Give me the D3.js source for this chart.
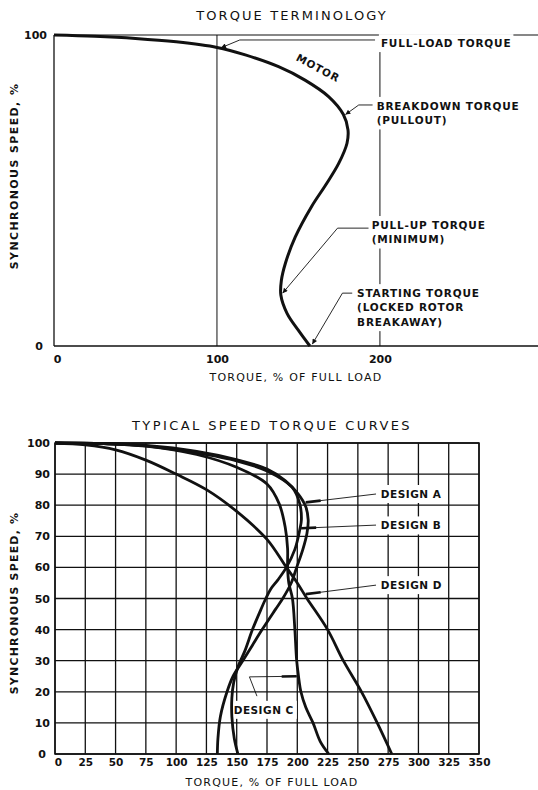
<!DOCTYPE html>
<html>
<head>
<meta charset="utf-8">
<script src="https://cdn.jsdelivr.net/npm/d3@7"></script>
<style>
  html, body { margin: 0; padding: 0; background: #fff; }
  svg text { font-family: "DejaVu Sans", sans-serif; fill: #111; }
</style>
</head>
<body>
<svg id="chart" width="538" height="790"></svg>
<script>
// ---- values: [torque % of full load, synchronous speed %] ----
const motorCurve = [
  [157, 0], [150, 5], [143, 10.5], [139.2, 16.4], [139.5, 21], [142, 26.6],
  [148, 35], [158, 44.8], [167, 52], [174.7, 58.7], [179.8, 65.2], [180.4, 69.5],
  [177.5, 74.5], [168.5, 80.2], [154, 85.5], [137.8, 89.8], [117.4, 93.6],
  [100, 96], [75, 97.8], [50, 98.9], [25, 99.6], [0, 100]
];
const designA = [
  [134, 0], [134.5, 5], [136.5, 12], [142, 20], [147, 25], [155, 30], [163, 35],
  [171, 40], [182, 46.5], [188, 50], [195, 55], [199.5, 60], [204.6, 65.8],
  [208, 71], [209, 75.3], [207, 79.5], [200.5, 83.7], [190, 87.9], [175, 91.6],
  [150.5, 94.6], [117, 97.3], [75, 99.2], [40, 99.8], [0, 100]
];
const designB = [
  [151, 0], [148, 5], [146, 12], [146, 18], [147.5, 23], [151, 28], [157, 33.4],
  [163, 40], [170, 46.5], [174, 50], [178, 53], [184, 56], [191, 60], [198, 65.8],
  [202, 72], [203.4, 75.3], [202, 80.5], [195.6, 85.8], [175, 91], [150.5, 94.2],
  [117, 96.8], [75, 99.1], [40, 99.8], [0, 100]
];
const designC = [
  [226, 0], [219, 4], [213, 10], [207, 15], [203, 20], [201, 25], [199.5, 30],
  [198, 40], [196, 50], [193, 55], [192, 60], [192, 66], [190, 73], [185, 80.5],
  [175, 86.8], [150.5, 92.1], [117, 96.3], [75, 99], [40, 99.8], [0, 100]
];
const designD = [
  [278, 0], [266, 10], [253, 20], [238, 30], [225, 40], [208, 50], [200, 55],
  [191, 60], [175, 69], [150, 78], [125, 85], [100, 90], [75, 94.5], [50, 97.8],
  [25, 99.4], [0, 100]
];

// ---- tick labels ----
const topXTicks = [0, 100, 200];
const topYTicks = [0, 100];
const bottomXTicks = [0, 25, 50, 75, 100, 125, 150, 175, 200, 225, 250, 275, 300, 325, 350];
const bottomYTicks = [0, 10, 20, 30, 40, 50, 60, 70, 80, 90, 100];

const svg = d3.select("#chart");
const ink = "#111";

const defs = svg.append("defs");
defs.append("marker")
  .attr("id", "arrow")
  .attr("viewBox", "0 0 10 10")
  .attr("refX", 10).attr("refY", 5)
  .attr("markerWidth", 8).attr("markerHeight", 5)
  .attr("markerUnits", "userSpaceOnUse")
  .attr("orient", "auto")
  .append("path").attr("d", "M0,0 L10,5 L0,10 Z").attr("fill", ink);

function txt(g, x, y, s, opts = {}) {
  return g.append("text")
    .attr("x", x).attr("y", y).attr("dy", "0.35em")
    .attr("text-anchor", opts.anchor || "middle")
    .attr("font-size", opts.size || 11)
    .attr("font-weight", opts.weight || "normal")
    .attr("letter-spacing", opts.ls || 0)
    .text(s);
}

function styleTicks(ax, size) {
  ax.select(".domain").remove();
  ax.selectAll("text").attr("font-size", size).attr("font-family", "DejaVu Sans")
    .attr("font-weight", "bold").attr("fill", ink);
}

// =================== Torque terminology ===================
const xT = d3.scaleLinear().domain([0, 297]).range([54, 538]);
const yT = d3.scaleLinear().domain([0, 100]).range([346, 35]);
const gT = svg.append("g");

txt(gT, 292, 15, "TORQUE TERMINOLOGY", { size: 13, ls: 2.1 });

// frame lines and the two vertical references
gT.append("line").attr("x1", xT(0)).attr("x2", xT(0)).attr("y1", yT(0)).attr("y2", yT(100))
  .attr("stroke", ink).attr("stroke-width", 1.3);
gT.append("line").attr("x1", xT(0)).attr("x2", 538).attr("y1", yT(0)).attr("y2", yT(0))
  .attr("stroke", ink).attr("stroke-width", 1.3);
gT.append("line").attr("x1", xT(0)).attr("x2", 538).attr("y1", yT(100)).attr("y2", yT(100))
  .attr("stroke", ink).attr("stroke-width", 1.1);
gT.selectAll("line.vref").data([100, 200]).join("line").attr("class", "vref")
  .attr("x1", d => xT(d)).attr("x2", d => xT(d)).attr("y1", yT(0)).attr("y2", yT(100))
  .attr("stroke", ink).attr("stroke-width", 1);

// tick labels via axes
const axT = gT.append("g").attr("transform", `translate(0,${yT(0)})`)
  .call(d3.axisBottom(xT).tickValues(topXTicks).tickSize(0).tickPadding(9).tickFormat(d3.format("d")));
styleTicks(axT, 11);
axT.selectAll("text").attr("dx", d => d === 0 ? 3 : 0);
const ayT = gT.append("g").attr("transform", `translate(${xT(0)},0)`)
  .call(d3.axisLeft(yT).tickValues(topYTicks).tickSize(0).tickPadding(7).tickFormat(d3.format("d")));
styleTicks(ayT, 11);
ayT.selectAll("text").attr("dx", d => d === 0 ? -4 : 0);

txt(gT, 296, 377, "TORQUE, % OF FULL LOAD", { size: 11, ls: 1.2 });
txt(gT, 0, 0, "SYNCHRONOUS SPEED, %", { size: 11, ls: 1.4, weight: "bold" })
  .attr("transform", "translate(14,176) rotate(-90)");

// label blocks (white backing interrupts the 200 % reference line)
const termNotes = [
  { lines: ["FULL-LOAD TORQUE"], t: 200.6, s: 97.4 },
  { lines: ["BREAKDOWN TORQUE", "(PULLOUT)"], t: 198, s: 77.2 },
  { lines: ["PULL-UP TORQUE", "(MINIMUM)"], t: 195, s: 38.9 },
  { lines: ["STARTING TORQUE", "(LOCKED ROTOR", "BREAKAWAY)"], t: 186, s: 17 }
];
const termLeaders = [
  [[197, 98.4], [114, 98.4], [102.5, 95.9]],
  [[195.5, 77.5], [187, 77.5], [178.8, 74.4]],
  [[193, 37.9], [174, 37.9], [140.3, 17]],
  [[183, 17], [177, 17], [158.5, 0.6]]
];
termNotes.forEach(n => {
  const g = gT.append("g");
  const tx = xT(n.t), ty = yT(n.s);
  const texts = n.lines.map((l, i) =>
    txt(g, tx, ty + i * 14.5, l, { anchor: "start", size: 10.5, weight: "bold", ls: 0.8 }));
  const w = d3.max(texts, t => t.node().getComputedTextLength());
  g.insert("rect", "text").attr("x", tx - 2).attr("y", ty - 9)
    .attr("width", w + 4).attr("height", (n.lines.length - 1) * 14.5 + 18).attr("fill", "#fff");
});
const lineT = d3.line().x(d => xT(d[0])).y(d => yT(d[1]));
termLeaders.forEach(p => {
  gT.append("path").attr("d", lineT(p)).attr("fill", "none")
    .attr("stroke", ink).attr("stroke-width", 0.9).attr("marker-end", "url(#arrow)");
});

// motor curve
gT.append("path").datum(motorCurve)
  .attr("d", d3.line().x(d => xT(d[0])).y(d => yT(d[1])).curve(d3.curveCatmullRom.alpha(0.5)))
  .attr("fill", "none").attr("stroke", ink).attr("stroke-width", 3).attr("stroke-linejoin", "round");

txt(gT, xT(162), yT(89.4), "MOTOR", { size: 10.5, weight: "bold", ls: 0.8 })
  .attr("transform", `rotate(28,${xT(162)},${yT(89.4)})`);

// =================== Typical speed torque curves ===================
const xB = d3.scaleLinear().domain([0, 350]).range([55, 479]);
const yB = d3.scaleLinear().domain([0, 100]).range([754, 443]);
const gB = svg.append("g");

txt(gB, 272, 425, "TYPICAL SPEED TORQUE CURVES", { size: 13, ls: 2.4 });

gB.selectAll("line.gx").data(bottomXTicks).join("line").attr("class", "gx")
  .attr("x1", d => xB(d)).attr("x2", d => xB(d)).attr("y1", yB(0)).attr("y2", yB(100))
  .attr("stroke", ink).attr("stroke-width", 1.3);
gB.selectAll("line.gy").data(bottomYTicks).join("line").attr("class", "gy")
  .attr("x1", xB(0)).attr("x2", xB(350)).attr("y1", d => yB(d)).attr("y2", d => yB(d))
  .attr("stroke", ink).attr("stroke-width", 1.3);

const axB = gB.append("g").attr("transform", `translate(0,${yB(0)})`)
  .call(d3.axisBottom(xB).tickValues(bottomXTicks).tickSize(0).tickPadding(5).tickFormat(d3.format("d")));
styleTicks(axB, 10.5);
axB.selectAll("text").attr("dx", d => d === 0 ? 3 : 0);
const ayB = gB.append("g").attr("transform", `translate(${xB(0)},0)`)
  .call(d3.axisLeft(yB).tickValues(bottomYTicks).tickSize(0).tickPadding(5).tickFormat(d3.format("d")));
styleTicks(ayB, 11);
ayB.selectAll("text").attr("dx", d => d === 0 ? -4 : 0);

txt(gB, 272, 782, "TORQUE, % OF FULL LOAD", { size: 11, ls: 1.2 });
txt(gB, 0, 0, "SYNCHRONOUS SPEED, %", { size: 11, ls: 1.2, weight: "bold" })
  .attr("transform", "translate(14,603) rotate(-90)");

// design labels with white backing
const designNotes = [
  { name: "DESIGN A", t: 269, s: 83.6, leader: [[265, 83.6], [207, 80.9]] },
  { name: "DESIGN B", t: 269, s: 73.5, leader: [[265, 73.6], [203.2, 72.6]] },
  { name: "DESIGN D", t: 269, s: 54.3, leader: [[265, 54.3], [207, 51.4]] },
  { name: "DESIGN C", t: 147.5, s: 14.2, leader: [[166.7, 18.6], [160.5, 24.8], [199.5, 25]] }
];
const lineB = d3.line().x(d => xB(d[0])).y(d => yB(d[1]));
designNotes.forEach(n => {
  const g = gB.append("g");
  const tx = xB(n.t), ty = yB(n.s);
  const t = txt(g, tx, ty, n.name, { anchor: "start", size: 10.5, weight: "bold", ls: 0.5 });
  const w = t.node().getComputedTextLength();
  g.insert("rect", "text").attr("x", tx - 3).attr("y", ty - 9).attr("width", w + 6).attr("height", 18)
    .attr("fill", "#fff");
  g.append("path").attr("d", lineB(n.leader)).attr("fill", "none")
    .attr("stroke", ink).attr("stroke-width", 0.9);
  // heavier stub at the curve end of each leader
  const a = n.leader[n.leader.length - 2], b = n.leader[n.leader.length - 1];
  const ax = xB(a[0]), ay = yB(a[1]), bx = xB(b[0]), by = yB(b[1]);
  const len = Math.hypot(ax - bx, ay - by), k = Math.min(1, 15 / len);
  g.append("line").attr("x1", bx).attr("y1", by)
    .attr("x2", bx + (ax - bx) * k).attr("y2", by + (ay - by) * k)
    .attr("stroke", ink).attr("stroke-width", 2.6);
});

const curveB = d3.line().x(d => xB(d[0])).y(d => yB(d[1])).curve(d3.curveCatmullRom.alpha(0.5));
gB.selectAll("path.design").data([designA, designB, designC, designD]).join("path")
  .attr("class", "design").attr("d", curveB)
  .attr("fill", "none").attr("stroke", ink).attr("stroke-width", 2.8).attr("stroke-linejoin", "round");

// outer frame
gB.append("rect").attr("x", xB(0)).attr("y", yB(100))
  .attr("width", xB(350) - xB(0)).attr("height", yB(0) - yB(100))
  .attr("fill", "none").attr("stroke", ink).attr("stroke-width", 1.5);
</script>
</body>
</html>
